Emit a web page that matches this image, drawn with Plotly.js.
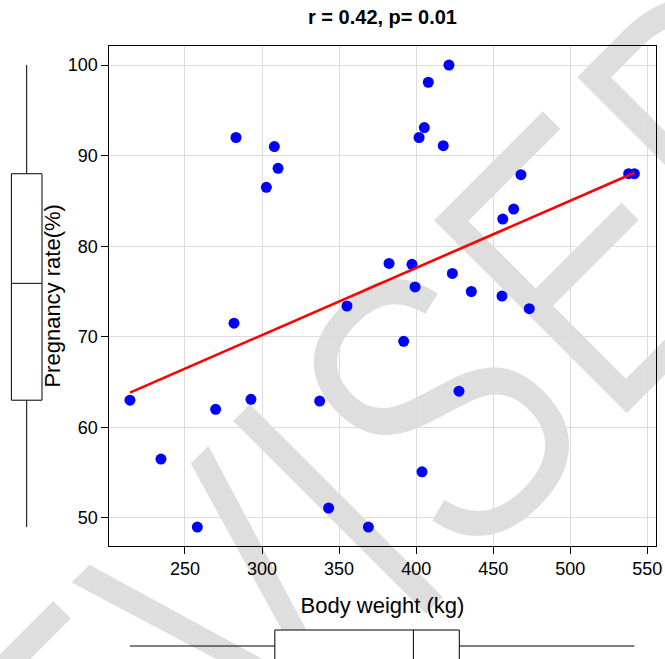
<!DOCTYPE html>
<html>
<head>
<meta charset="utf-8">
<script src="https://cdn.plot.ly/plotly-3.0.1.min.js"></script>
<style>
  html, body { margin: 0; padding: 0; background: #ffffff; }
  #wrap { position: relative; width: 665px; height: 659px; overflow: hidden; }
  #wm { position: absolute; left: 0; top: 0; }
  #chart { position: absolute; left: 0; top: 0; width: 665px; height: 659px; }
</style>
</head>
<body>
<div id="wrap">
  <svg id="wm" width="665" height="659">
    <text transform="translate(-35,1079) rotate(-45) scale(0.75,1)"
          font-family="Liberation Sans, Arial, sans-serif" font-size="405"
          fill="#dedede" stroke="#ffffff" stroke-width="6">REVISED</text>
  </svg>
  <div id="chart"></div>
</div>
<script>
// ---- data ----
const bodyWeight = [283.1, 308.0, 310.4, 302.8, 421.3, 407.9, 405.3, 401.9, 417.6, 468.0,
                    537.9, 541.6, 463.3, 456.2, 382.4, 397.3, 423.5, 399.3, 435.8, 455.7,
                    473.4, 391.9, 427.8, 403.8, 369.0, 355.1, 281.8, 214.3, 269.9, 292.8,
                    337.4, 234.4, 343.2, 258.0];
const pregnancyRate = [92.0, 91.0, 88.6, 86.5, 100.0, 98.1, 93.1, 92.0, 91.1, 87.9,
                       88.0, 88.0, 84.1, 83.0, 78.1, 78.0, 77.0, 75.5, 75.0, 74.5,
                       73.1, 69.5, 64.0, 55.1, 49.0, 73.4, 71.5, 63.0, 62.0, 63.1,
                       62.9, 56.5, 51.1, 49.0];
// five-number summaries drawn in the marginal box plots: [min, q1, median, q3, max]
const weightBox = [214.3, 308.3, 398.2, 428.0, 541.6];
const rateBox = [49.0, 63.0, 75.9, 88.0, 100.0];
const xTicks = [250, 300, 350, 400, 450, 500, 550];
const yTicks = [50, 60, 70, 80, 90, 100];
const titleText = 'r = 0.42, p= 0.01';

// least-squares fit line from the data
const n = bodyWeight.length;
const mx = bodyWeight.reduce((a, b) => a + b, 0) / n;
const my = pregnancyRate.reduce((a, b) => a + b, 0) / n;
let sxy = 0, sxx = 0;
for (let i = 0; i < n; i++) {
  sxy += (bodyWeight[i] - mx) * (pregnancyRate[i] - my);
  sxx += (bodyWeight[i] - mx) ** 2;
}
const slope = sxy / sxx, icpt = my - slope * mx;
const xmin = Math.min(...bodyWeight), xmax = Math.max(...bodyWeight);
const fitX = [xmin, xmax];
const fitY = fitX.map(v => icpt + slope * v);

// ---- layout geometry (pixels) ----
const W = 665, H = 659;
const xRange = [200.88, 555.45];
const yRange = [46.94, 102.10];
const xDom = [109.3 / W, 655.7 / W];
const yDom = [1 - 545.7 / H, 1 - 46 / H];
const FONT = 'Liberation Sans, Arial, sans-serif';

const traces = [
  {
    type: 'scatter', mode: 'markers', x: bodyWeight, y: pregnancyRate,
    marker: { color: '#0000ff', size: 11 }, xaxis: 'x', yaxis: 'y',
    hoverinfo: 'x+y', showlegend: false
  },
  {
    type: 'scatter', mode: 'lines', x: fitX, y: fitY,
    line: { color: '#ff0000', width: 2.6 }, xaxis: 'x', yaxis: 'y', showlegend: false
  },
  {
    type: 'box', orientation: 'v', x: [0],
    lowerfence: [rateBox[0]], q1: [rateBox[1]], median: [rateBox[2]],
    q3: [rateBox[3]], upperfence: [rateBox[4]],
    width: 30.6, whiskerwidth: 0, fillcolor: 'rgba(255,255,255,1)',
    line: { color: '#000000', width: 1 }, xaxis: 'x2', yaxis: 'y2', showlegend: false
  },
  {
    type: 'box', orientation: 'h', y: [0],
    lowerfence: [weightBox[0]], q1: [weightBox[1]], median: [weightBox[2]],
    q3: [weightBox[3]], upperfence: [weightBox[4]],
    width: 32, whiskerwidth: 0, fillcolor: 'rgba(255,255,255,1)',
    line: { color: '#000000', width: 1 }, xaxis: 'x3', yaxis: 'y3', showlegend: false
  }
];

const axisCommon = {
  showline: true, mirror: true, linecolor: '#000000', linewidth: 1,
  ticks: 'outside', ticklen: 7, tickwidth: 1, tickcolor: '#000000',
  showgrid: true, gridcolor: '#dcdcdc', gridwidth: 1, zeroline: false,
  tickfont: { family: FONT, size: 18, color: '#000000' },
  automargin: false, fixedrange: true
};

const layout = {
  width: W, height: H,
  margin: { l: 0, r: 0, t: 0, b: 0, pad: 0 },
  paper_bgcolor: 'rgba(0,0,0,0)', plot_bgcolor: 'rgba(0,0,0,0)',
  showlegend: false,
  title: {
    text: '<b>' + titleText + '</b>',
    font: { family: FONT, size: 20, color: '#000000' },
    xref: 'paper', yref: 'paper', x: 382.5 / W, xanchor: 'center',
    y: 1 - 17 / H, yanchor: 'middle'
  },
  xaxis: Object.assign({}, axisCommon, {
    domain: xDom, range: xRange, anchor: 'y',
    tickmode: 'array', tickvals: xTicks, ticktext: xTicks.map(String),
    title: { text: 'Body weight (kg)', font: { family: FONT, size: 22, color: '#000000' }, standoff: 19 }
  }),
  yaxis: Object.assign({}, axisCommon, {
    domain: yDom, range: yRange, anchor: 'x',
    tickmode: 'array', tickvals: yTicks, ticktext: yTicks.map(String),
    title: { text: 'Pregnancy rate(%)', font: { family: FONT, size: 22, color: '#000000' }, standoff: 0 }
  }),
  xaxis2: { domain: [0, 60 / W], range: [-26.7, 33.3], anchor: 'y2', visible: false, fixedrange: true },
  yaxis2: { domain: yDom, range: yRange, anchor: 'x2', visible: false, fixedrange: true },
  xaxis3: { domain: xDom, range: xRange, anchor: 'y3', visible: false, fixedrange: true },
  yaxis3: { domain: [0, 40 / H], range: [-13, 27], anchor: 'x3', visible: false, fixedrange: true }
};

Plotly.newPlot('chart', traces, layout, { displayModeBar: false, staticPlot: true });
</script>
</body>
</html>
